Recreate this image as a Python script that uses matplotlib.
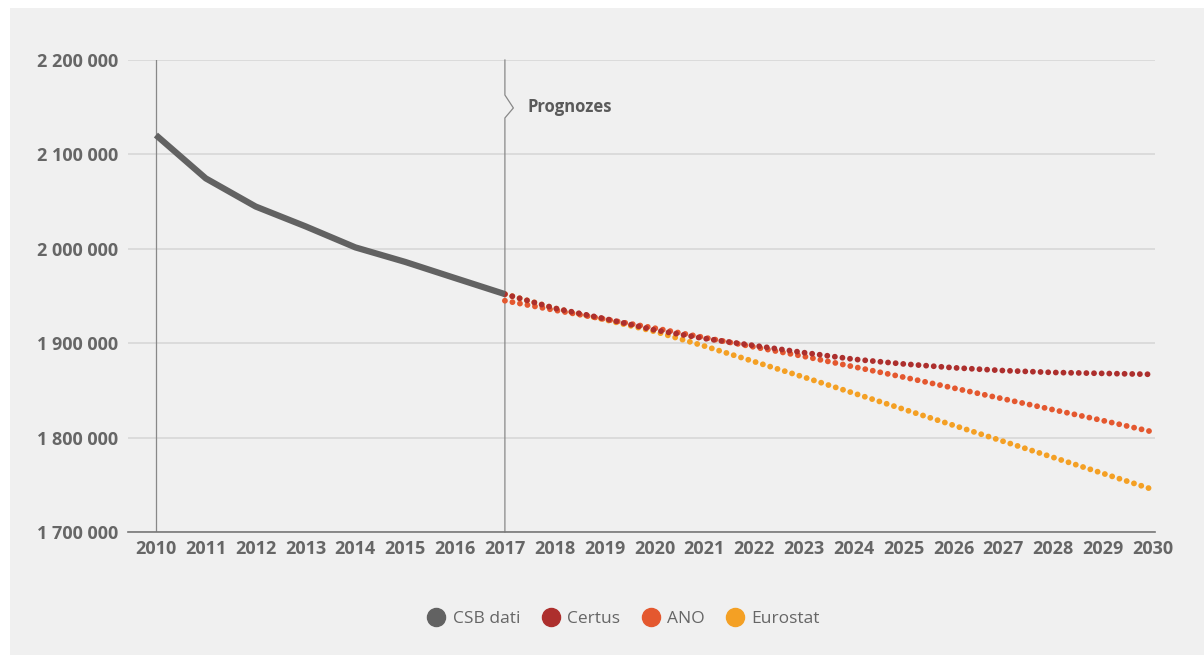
import matplotlib
matplotlib.use("Agg")
import matplotlib.pyplot as plt
from matplotlib.lines import Line2D
from matplotlib.patches import Rectangle

years_hist = [2010, 2011, 2012, 2013, 2014, 2015, 2016, 2017]
csb = [2120500, 2074600, 2044800, 2023800, 2001500, 1986100, 1969000, 1952000]

years_fc = list(range(2017, 2031))
certus = [1952000, 1937000, 1926000, 1914000, 1905000, 1897500, 1890000, 1883000,
          1878000, 1874000, 1871000, 1869000, 1868000, 1867000]
ano = [1945000, 1935000, 1925500, 1916000, 1906000, 1896000, 1886000, 1875000,
       1864000, 1852500, 1841000, 1829500, 1818000, 1806000]
eurostat = [1952000, 1937000, 1925000, 1912500, 1897000, 1880500, 1864000, 1847000,
            1830000, 1813000, 1796000, 1779000, 1762000, 1745000]

yticks = [1700000, 1800000, 1900000, 2000000, 2100000, 2200000]
xticks = list(range(2010, 2031))
labels = ["CSB dati", "Certus", "ANO", "Eurostat"]
colors = ["#626262", "#ad2f2d", "#e4582f", "#f4a024"]

W, H = 1204, 655
fig = plt.figure(figsize=(W / 100, H / 100), dpi=100, facecolor="white")
fig.patches.append(Rectangle((10 / W, 0), 1, 1 - 8 / H, transform=fig.transFigure,
                             facecolor="#f0f0f0", edgecolor="none", zorder=-10))
ax = fig.add_axes([128 / W, 1 - 532 / H, (1155 - 128) / W, (532 - 60) / H])
ax.patch.set_alpha(0)

fontfam = ["Open Sans", "DejaVu Sans"]
tcol = "#666666"

ax.set_xlim(2009.44, 2030.04)
ax.set_ylim(1700000, 2200000)
ax.set_yticks(yticks)
ax.set_yticklabels([f"{v:,}".replace(",", " ") for v in yticks])
ax.set_xticks(xticks)
ax.set_xticklabels([str(x) for x in xticks])
for lab in ax.get_xticklabels() + ax.get_yticklabels():
    lab.set_family(fontfam)
    lab.set_fontweight("bold")
    lab.set_color(tcol)
    lab.set_fontsize(13)
ax.tick_params(axis="both", length=0)
ax.tick_params(axis="y", pad=7)
ax.tick_params(axis="x", pad=6)
for s in ["left", "right", "top"]:
    ax.spines[s].set_visible(False)
ax.spines["bottom"].set_color("#777777")
ax.spines["bottom"].set_linewidth(1.2)
ax.grid(axis="y", color="#d9d9d9", linewidth=1.3)
ax.set_axisbelow(True)

# vertical markers
ax.axvline(2010, color="#888888", linewidth=0.9, zorder=1)
ya, ym, yb = 2162900, 2149200, 2138600
ax.plot([2017, 2017, 2017.17, 2017, 2017], [1700000, yb, ym, ya, 2200000],
        color="#888888", linewidth=0.9, zorder=1, clip_on=False)
ax.text(2017.45, 2150200, "Prognozes", family=fontfam, fontweight="bold",
        color="#5a5a5a", fontsize=12, va="center", ha="left")

dot = dict(linestyle=(0, (0.01, 1.3)), dash_capstyle="round", linewidth=4.2)
ax.plot(years_fc, eurostat, color=colors[3], zorder=3, **dot)
ax.plot(years_fc, ano, color=colors[2], zorder=4, **dot)
ax.plot(years_fc, certus, color=colors[1], zorder=5, **dot)
ax.plot(years_hist, csb, color=colors[0], linewidth=4.5, solid_capstyle="butt", zorder=6)

handles = [Line2D([], [], linestyle="none", marker="o", markersize=13,
                  markerfacecolor=c, markeredgecolor=c) for c in colors]
leg = fig.legend(handles, labels, loc="center", bbox_to_anchor=(624 / W, 1 - 619 / H),
                 ncol=4, frameon=False, handlelength=1.0, handletextpad=0.45,
                 columnspacing=1.25, prop={"family": fontfam, "size": 12.5})
for t in leg.get_texts():
    t.set_color(tcol)

fig.savefig("out.png", dpi=100, facecolor="white")
